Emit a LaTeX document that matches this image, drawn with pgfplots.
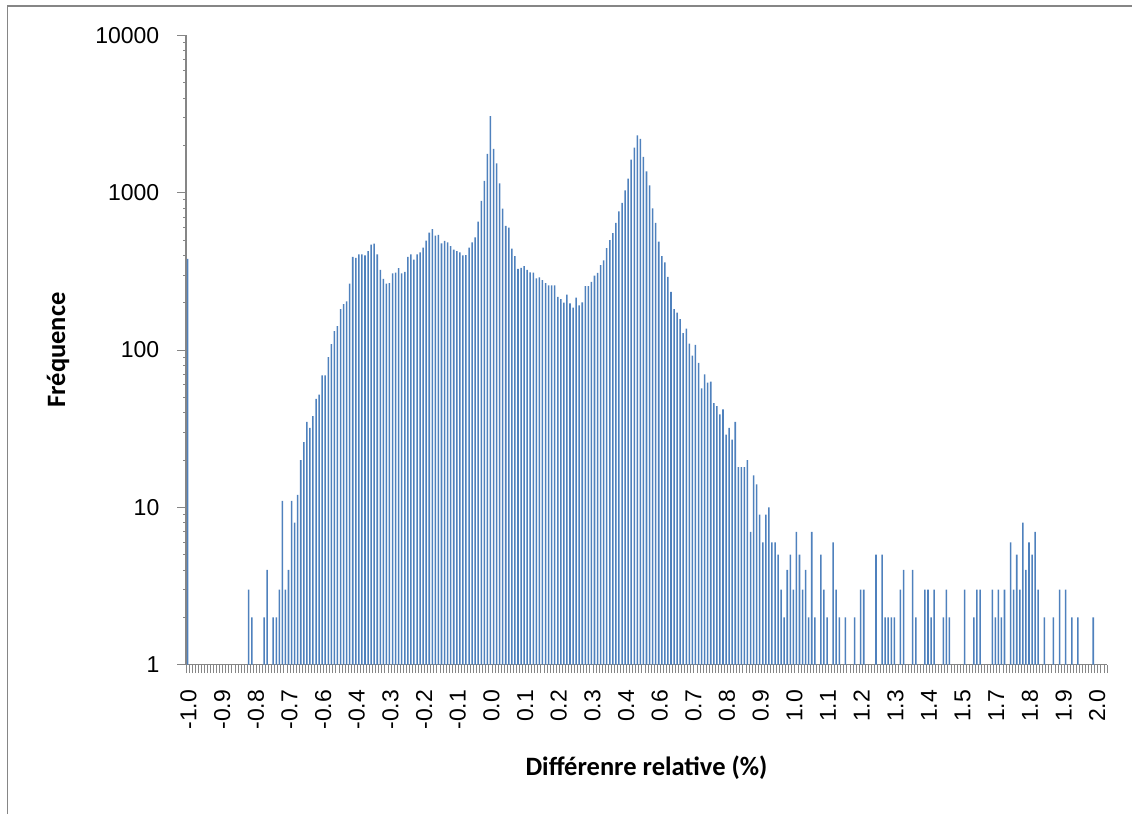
\documentclass[border=0pt]{standalone}
\usepackage{fontspec}
\setmainfont{Liberation Sans}
\newfontfamily\calibri{Carlito}
\usepackage{pgfplots}
\pgfplotsset{compat=1.18}
\definecolor{barblue}{RGB}{79,129,189}
\definecolor{axisgray}{RGB}{134,134,134}

\begin{document}
\begin{tikzpicture}
\path[use as bounding box] (0,0) rectangle (1132pt,814pt);
% chart area frame
\draw[axisgray, line width=1.2pt] (7.5pt,0pt) -- (7.5pt,808pt) -- (1132pt,808pt);
\begin{axis}[
  at={(186pt,149.3pt)}, anchor=south west,
  scale only axis, width=921pt, height=629.3pt,
  ymode=log, ymin=1, ymax=10000,
  xmin=-0.5, xmax=300.5,
  axis x line*=bottom, axis y line*=left,
  axis line style={axisgray, line width=1.5pt, -},
  tick align=outside,
  major tick length=8.5pt,
  tick style={axisgray, line width=0.9pt},
  ytick={1,10,100,1000,10000},
  yticklabels={1,10,100,1000,10000},
  xtick={-0.5,0.5,...,300.5},
  xticklabels={},
  extra x ticks={0,11,22,33,44,55,66,77,88,99,110,121,132,143,154,165,176,187,198,209,220,231,242,253,264,275,286,297},
  extra x tick labels={-1.0,-0.9,-0.8,-0.7,-0.6,-0.4,-0.3,-0.2,-0.1,0.0,0.1,0.2,0.3,0.4,0.6,0.7,0.8,0.9,1.0,1.1,1.2,1.3,1.4,1.5,1.7,1.8,1.9,2.0},
  extra x tick style={major tick length=0pt},
  yticklabel style={font=\fontsize{23}{27}\selectfont, anchor=east, inner sep=0pt, xshift=-18pt},
  xticklabel style={font=\fontsize{23}{27}\selectfont, rotate=90, anchor=east, inner sep=0pt, xshift=-25pt, yshift=-1pt},
  xlabel={Différenre relative (\%)},
  ylabel={Fréquence},
  xlabel style={font=\calibri\bfseries\fontsize{26.5}{30}\selectfont, at={(axis description cs:0.5,-0.164)}, anchor=center},
  ylabel style={font=\calibri\bfseries\fontsize{26.5}{30}\selectfont, at={(axis description cs:-0.139,0.5)}, anchor=center, rotate=0},
]
\addplot[ybar, bar width=0.5, bar shift=0pt, fill=barblue, draw=none] coordinates {
(0,380) (20,3) (21,2) (25,2) (26,4) (28,2) (29,2) (30,3) (31,11) (32,3)
(33,4) (34,11) (35,8) (36,12) (37,20) (38,26) (39,35) (40,32) (41,38) (42,49)
(43,52) (44,69) (45,69) (46,90) (47,109) (48,132) (49,142) (50,182) (51,196) (52,204)
(53,264) (54,391) (55,385) (56,406) (57,406) (58,400) (59,426) (60,468) (61,474) (62,406)
(63,323) (64,283) (65,264) (66,266) (67,307) (68,310) (69,332) (70,307) (71,314) (72,391)
(73,406) (74,376) (75,406) (76,418) (77,448) (78,496) (79,557) (80,586) (81,534) (82,539)
(83,477) (84,494) (85,484) (86,457) (87,435) (88,426) (89,418) (90,400) (91,401) (92,448)
(93,483) (94,521) (95,656) (96,887) (97,1189) (98,1765) (99,3064) (100,1900) (101,1538) (102,1148)
(103,793) (104,615) (105,600) (106,441) (107,395) (108,328) (109,333) (110,341) (111,323) (112,312)
(113,310) (114,286) (115,290) (116,278) (117,266) (118,258) (119,258) (120,258) (121,218) (122,211)
(123,200) (124,225) (125,198) (126,186) (127,215) (128,192) (129,201) (130,255) (131,255) (132,271)
(133,297) (134,309) (135,347) (136,372) (137,445) (138,499) (139,553) (140,643) (141,762) (142,861)
(143,1036) (144,1228) (145,1623) (146,1935) (147,2318) (148,2197) (149,1687) (150,1367) (151,1114) (152,796)
(153,643) (154,489) (155,395) (156,361) (157,292) (158,234) (159,182) (160,173) (161,157) (162,128)
(163,137) (164,110) (165,92) (166,108) (167,83) (168,57) (169,70) (170,62) (171,63) (172,46)
(173,44) (174,39) (175,42) (176,29) (177,32) (178,27) (179,35) (180,18) (181,18) (182,18)
(183,20) (184,7) (185,16) (186,14) (187,9) (188,6) (189,9) (190,10) (191,6) (192,6)
(193,5) (194,3) (195,2) (196,4) (197,5) (198,3) (199,7) (200,5) (201,3) (202,4)
(203,2) (204,7) (205,2) (207,5) (208,3) (209,2) (211,6) (212,3) (213,2) (215,2)
(218,2) (220,3) (221,3) (225,5) (227,5) (228,2) (229,2) (230,2) (231,2) (233,3)
(234,4) (237,4) (238,2) (241,3) (242,3) (243,2) (244,3) (247,2) (248,3) (249,2)
(254,3) (257,2) (258,3) (259,3) (263,3) (264,2) (265,3) (266,2) (267,3) (269,6)
(270,3) (271,5) (272,3) (273,8) (274,4) (275,6) (276,5) (277,7) (278,3) (280,2)
(283,2) (285,3) (287,3) (289,2) (291,2) (296,2)
};
\end{axis}
\end{tikzpicture}
\end{document}
